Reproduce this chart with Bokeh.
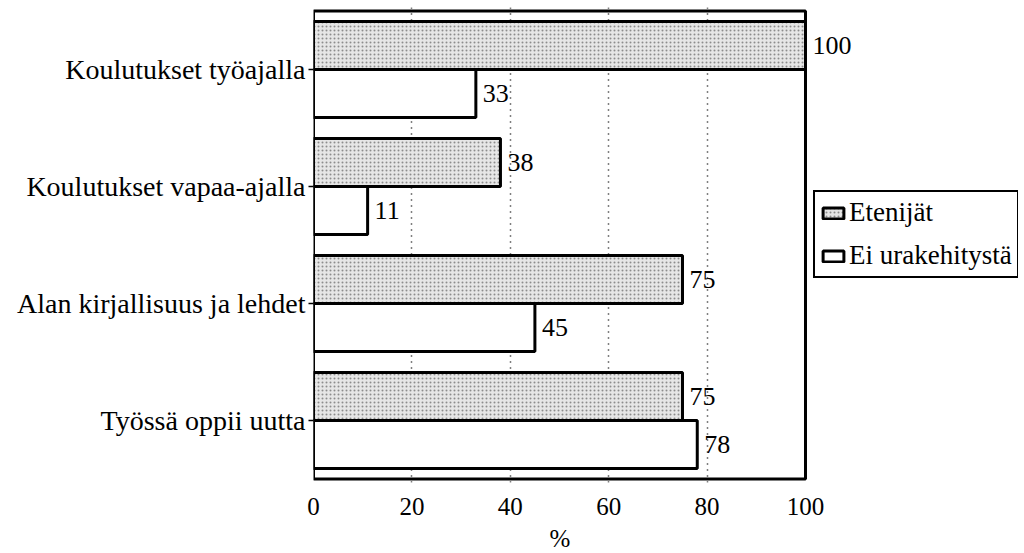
from bokeh.plotting import figure
from bokeh.models import (ColumnDataSource, Range1d, FixedTicker, Legend, LegendItem,
                          LabelSet, Title)
from bokeh.embed import file_html
from bokeh.resources import INLINE

categories = ["Koulutukset työajalla", "Koulutukset vapaa-ajalla",
              "Alan kirjallisuus ja lehdet", "Työssä oppii uutta"]
etenijat = [100, 38, 75, 75]
ei_urakehitysta = [33, 11, 45, 78]
series_names = ["Etenijät", "Ei urakehitystä"]
x_ticks = [0, 20, 40, 60, 80, 100]

FONT = "Liberation Serif"
n = len(categories)
centers = [n - 1 - i + 0.5 for i in range(n)]
off = 0.205
bar_h = 0.41

# layout: axis box 0..100 occupies 492 px; frame extends to the right for labels + legend
box_px = 492
frame_w = 705
x_max = x_ticks[-1] * frame_w / box_px
pad = 0.03
frame_h = round(468 * (n + 2 * pad) / n)

src_a = ColumnDataSource(dict(y=[c + off for c in centers], x=etenijat,
                              lab=[str(v) for v in etenijat]))
src_b = ColumnDataSource(dict(y=[c - off for c in centers], x=ei_urakehitysta,
                              lab=[str(v) for v in ei_urakehitysta]))

p = figure(frame_width=frame_w, frame_height=frame_h, output_backend="svg",
           toolbar_location=None,
           x_range=Range1d(0, x_max), y_range=Range1d(-pad, n + pad),
           min_border_left=313, min_border_right=0, min_border_top=7,
           min_border_bottom=8)

p.outline_line_color = None
p.background_fill_color = "white"
p.border_fill_color = "white"

# grid (dotted verticals)
p.ygrid.grid_line_color = None
p.xgrid.ticker = FixedTicker(ticks=x_ticks[1:-1])
p.xgrid.grid_line_color = "black"
p.xgrid.grid_line_dash = "1 5"
p.xgrid.grid_line_width = 1.5
p.xgrid.bounds = (0, n)

ra = p.hbar(y="y", right="x", left=0, height=bar_h, source=src_a,
            fill_color="#e6e6e6", line_color="black", line_width=3,
            hatch_pattern="dot", hatch_color="#8c8c8c", hatch_scale=4,
            hatch_weight=0.6)
rb = p.hbar(y="y", right="x", left=0, height=bar_h, source=src_b,
            fill_color="white", line_color="black", line_width=3)

# axis box
p.quad(left=[x_ticks[0]], right=[x_ticks[-1]], bottom=[0], top=[n],
       fill_color=None, line_color="black", line_width=3)

for src in (src_a, src_b):
    p.add_layout(LabelSet(x="x", y="y", text="lab", source=src, x_offset=7,
                          text_baseline="middle", text_font=FONT,
                          text_font_size="26px", text_color="black"))

# x axis
p.xaxis.ticker = FixedTicker(ticks=x_ticks)
p.xaxis.axis_line_color = None
p.xaxis.major_tick_line_color = None
p.xaxis.minor_tick_line_color = None
p.xaxis.major_label_standoff = 9
p.xaxis.major_label_text_font = FONT
p.xaxis.major_label_text_font_size = "25px"
p.xaxis.major_label_text_color = "black"

p.add_layout(Title(text="%", align="left", offset=236, text_font=FONT,
                   text_font_size="25px", text_font_style="normal",
                   text_color="black", standoff=11), "below")

# y axis
p.yaxis.ticker = FixedTicker(ticks=centers)
p.yaxis.major_label_overrides = {c: cat for c, cat in zip(centers, categories)}
p.yaxis.axis_line_color = None
p.yaxis.major_tick_in = 0
p.yaxis.major_tick_out = 5
p.yaxis.major_tick_line_width = 1.5
p.yaxis.minor_tick_line_color = None
p.yaxis.major_label_standoff = 3
p.yaxis.major_label_text_font = FONT
p.yaxis.major_label_text_font_size = "28px"
p.yaxis.major_label_text_color = "black"

legend = Legend(items=[LegendItem(label=series_names[0], renderers=[ra]),
                       LegendItem(label=series_names[1], renderers=[rb])],
                location=(500, 204), margin=0, padding=5,
                glyph_width=26, glyph_height=14, label_standoff=3,
                label_height=28, spacing=12,
                label_text_font=FONT, label_text_font_size="27px",
                label_text_color="black",
                border_line_color="black", border_line_width=2.5,
                border_line_alpha=1.0,
                background_fill_alpha=1)
p.add_layout(legend, "center")

open("out.html", "w").write(file_html(p, INLINE))
